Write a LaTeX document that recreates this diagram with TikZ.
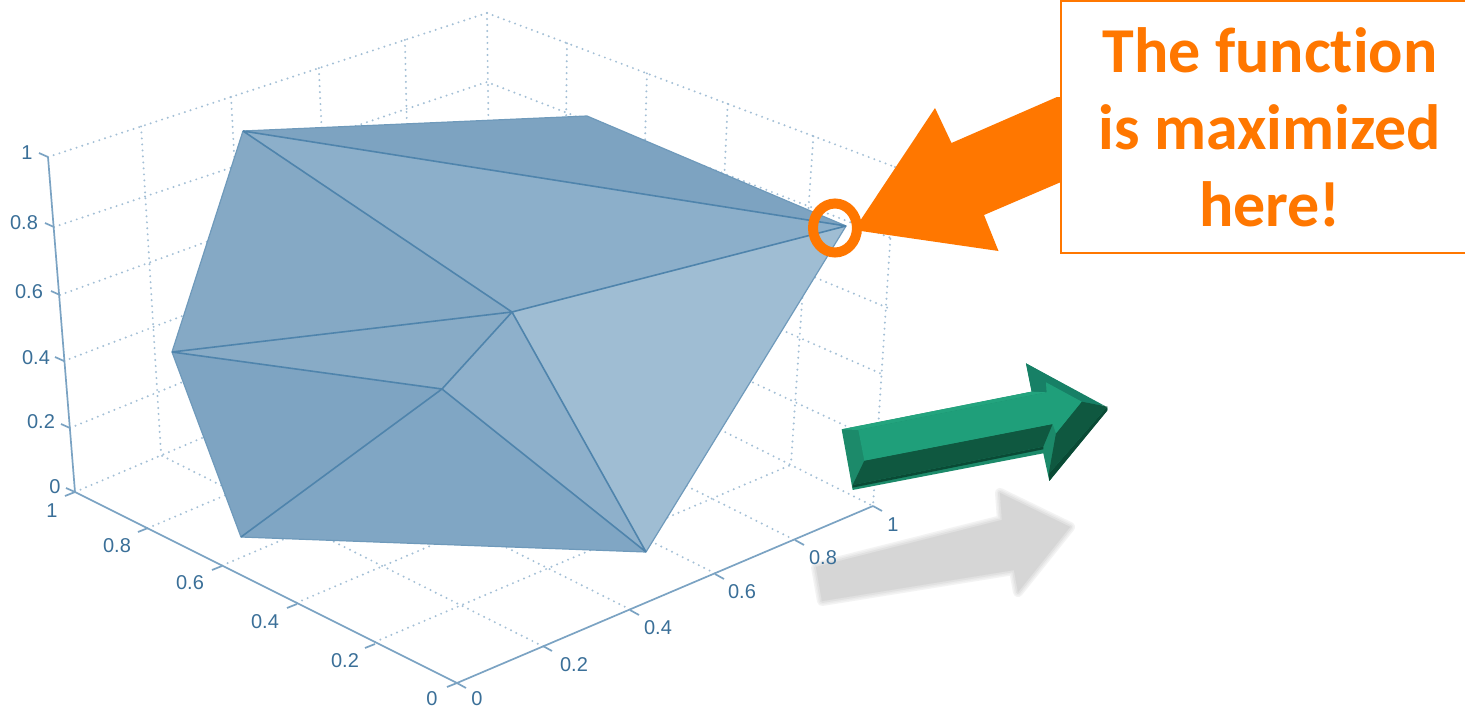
\documentclass[tikz,border=0pt]{standalone}
\usepackage{fontspec}
\setmainfont{Liberation Sans}
\newfontfamily\callfont[Ligatures=NoCommon]{Carlito}
\usetikzlibrary{calc}
\definecolor{gridc}{HTML}{A3BFD6}
\definecolor{axisc}{HTML}{7BA3C3}
\definecolor{labc}{HTML}{3A6F98}
\definecolor{edgec}{HTML}{4F84AC}
\definecolor{outc}{HTML}{6F9ABB}
\definecolor{orng}{HTML}{FF7700}
\newcommand\hexcol[1]{\definecolor{c#1}{HTML}{#1}}
\hexcol{7DA3C1}\hexcol{8CAFCA}\hexcol{85A9C5}\hexcol{88ABC6}\hexcol{7EA4C2}\hexcol{80A6C4}\hexcol{8EB0CB}\hexcol{9FBDD3}
\hexcol{1C8A6A}\hexcol{178066}\hexcol{0A4A35}\hexcol{0F5840}\hexcol{23A47E}\hexcol{1F9F7A}
\hexcol{F3F3F3}\hexcol{EBEBEB}\hexcol{E1E1E1}\hexcol{D6D6D6}
\tikzset{
  griddots/.style={draw=gridc,line width=2.2pt,line cap=round,dash pattern=on 0pt off 6pt},
  axisline/.style={draw=axisc,line width=1.7pt},
  ticklab/.style={font=\fontsize{20}{20}\selectfont,text=labc,inner sep=0pt},
  face/.style={fill=c#1,draw=none},
  inner edge/.style={draw=edgec,line width=1.6pt,line join=round},
  outer edge/.style={draw=outc,line width=1.2pt,line join=round},
  gfill/.style={fill=c#1,draw=none},
}
\begin{document}
\begin{tikzpicture}[x=1pt,y=-1pt]
\useasboundingbox (0,0) rectangle (1465,709);
\clip (0,0) rectangle (1465,709);
\fill[white] (0,0) rectangle (1465,709);
% frame
\coordinate (ztop) at (48,157);
\coordinate (zbot) at (75,492);
\coordinate (backtop) at (487,13);
\coordinate (backbot) at (491,315);
\coordinate (rtop) at (895,167);
\coordinate (rbot) at (873,506);
\coordinate (orig) at (457,683);
% shadow
\foreach \w/\c in {10/F3F3F3,7/EBEBEB,4/E1E1E1,0.1/D6D6D6}{
  \draw[draw=c\c,fill=c\c,line width=\w pt,line join=round]
   (816,567) -- (1002,520) -- (1000,493) -- (1070,527) -- (1018,592) -- (1014,570) -- (822,601) -- cycle;
}
% grid walls
\foreach \s/\t in {.212/.207,.417/.416,.617/.62,.813/.81}
  \path[griddots] ($(ztop)!\s!(backtop)$) -- ($(zbot)!\t!(backbot)$);
\foreach \s/\t in {.196/.19,.392/.385,.59/.58,.80/.785}
  \path[griddots] ($(backtop)!\s!(rtop)$) -- ($(backbot)!\t!(rbot)$);
\foreach \ax/\ay/\by/\cx/\cy in {48/157/13/895/167,54/227/82/891/238,60/295/140/888/308,64/361/200/884/375,70/428/258/878/441}
  \path[griddots] (\ax,\ay) -- (487,\by) -- (\cx,\cy);
\path[griddots] (backtop) -- (backbot);
\path[griddots] (rtop) -- (rbot);
% floor
\path[griddots] (zbot) -- (backbot) -- (rbot);
\foreach \s in {.19,.385,.58,.785}
  \path[griddots] ($(zbot)!\s!(orig)$) -- ($(backbot)!\s!(rbot)$);
\foreach \s in {.207,.416,.62,.81}
  \path[griddots] ($(orig)!\s!(rbot)$) -- ($(zbot)!\s!(backbot)$);
% axes
\draw[axisline] (ztop) -- (zbot) -- (orig) -- (rbot);
\foreach \x/\y in {48/157,54/227,60/295,64/361,70/428,75/492}
  \draw[axisline] (\x,\y) -- ++(-9,-4);
\foreach \x/\y in {75/492,148/528,222/566,297/604,375/644,457/683}
  \draw[axisline] (\x,\y) -- ++(-10,4);
\foreach \x/\y in {457/683,543/646,630/610,715/574,795/540,873/506}
  \draw[axisline] (\x,\y) -- ++(9,5);
% tick labels
\node[ticklab] (zA) at (27,153) {1};
\node[ticklab] (zB) at (24,223) {0.8};
\node[ticklab] (zC) at (29,292) {0.6};
\node[ticklab] (zD) at (36,358) {0.4};
\node[ticklab] (zE) at (41,422) {0.2};
\node[ticklab] (zF) at (55,487) {0};
\node[ticklab] (lA) at (52,511) {1};
\node[ticklab] (lB) at (117,546) {0.8};
\node[ticklab] (lC) at (190,583) {0.6};
\node[ticklab] (lD) at (265,622) {0.4};
\node[ticklab] (lE) at (345,661) {0.2};
\node[ticklab] (lF) at (432,699) {0};
\node[ticklab] (rA) at (477,699) {0};
\node[ticklab] (rB) at (574,665) {0.2};
\node[ticklab] (rC) at (658,628) {0.4};
\node[ticklab] (rD) at (742,592) {0.6};
\node[ticklab] (rE) at (823,558) {0.8};
\node[ticklab] (rF) at (893,525) {1};
% surface
\coordinate (A) at (243,131);
\coordinate (B) at (587,116);
\coordinate (C) at (846,226);
\coordinate (D) at (512,312);
\coordinate (E) at (172,352);
\coordinate (F) at (442,389);
\coordinate (G) at (241,537);
\coordinate (H) at (646,552);
\path[face=7DA3C1] (A) -- (B) -- (C) -- cycle;
\path[face=8CAFCA] (A) -- (C) -- (D) -- cycle;
\path[face=85A9C5] (A) -- (D) -- (E) -- cycle;
\path[face=88ABC6] (E) -- (D) -- (F) -- cycle;
\path[face=7EA4C2] (E) -- (F) -- (G) -- cycle;
\path[face=80A6C4] (G) -- (F) -- (H) -- cycle;
\path[face=8EB0CB] (F) -- (D) -- (H) -- cycle;
\path[face=9FBDD3] (D) -- (C) -- (H) -- cycle;
\path[outer edge] (A) -- (B) -- (C) -- (H) -- (G) -- (E) -- cycle;
\path[inner edge] (A) -- (C) (A) -- (D) (C) -- (D) (E) -- (D) (E) -- (F)
  (D) -- (F) (F) -- (G) (F) -- (H) (D) -- (H);
% green arrow (zoomed coordinates: 830+x/3, 350+y/3)
\begin{scope}[shift={(830,350)},x=0.3333pt,y=-0.3333pt]
\path[gfill=1C8A6A] (35,238) -- (605,125) -- (588,40) -- (832,175) -- (832,180) -- (658,393) -- (640,310) -- (68,420) -- cycle;
\path[gfill=178066] (588,40) -- (825,168) -- (755,155) -- (648,97) -- (650,127) -- (605,125) -- cycle;
\path[gfill=0A4A35] (68,405) -- (640,290) -- (640,298) -- (68,413) -- cycle;
\path[gfill=0F5840] (103,332) -- (668,222) -- (640,290) -- (68,405) -- cycle;
\path[gfill=0A4A35] (832,170) -- (832,182) -- (658,393) -- (656,372) -- cycle;
\path[gfill=0F5840] (755,155) -- (832,170) -- (656,372) -- (678,250) -- cycle;
\path[gfill=23A47E] (35,238) -- (605,125) -- (650,127) -- (85,240) -- cycle;
\path[gfill=1F9F7A] (85,240) -- (650,127) -- (648,97) -- (755,155) -- (678,250) -- (668,222) -- (103,332) -- cycle;
\end{scope}
% orange pointer
\fill[orng] (854,230) -- (935,108) -- (951.5,143) -- (1057,97) -- (1064,97) -- (1064,181) -- (1061,182) -- (984,215) -- (998.5,251) -- cycle;
\draw[orng,line width=10pt] (835,228) ellipse [x radius=22,y radius=24.5];
% callout
\node[draw=orng,line width=2pt,fill=white,minimum width=418pt,minimum height=251pt,inner sep=0pt,
  align=center,text=orng,font=\callfont\bfseries\fontsize{64}{77}\selectfont] (callout) at (1270,127) {The function\\is maximized\\here!};
\end{tikzpicture}
\end{document}
